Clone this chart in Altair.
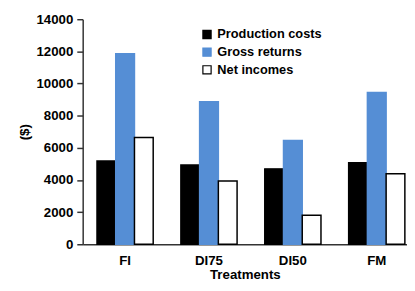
import altair as alt
import pandas as pd

treatments = ["FI", "DI75", "DI50", "FM"]
series = ["Production costs", "Gross returns", "Net incomes"]
production_costs = [5180, 4930, 4690, 5070]
gross_returns = [11860, 8870, 6460, 9440]
net_incomes = [6640, 3930, 1810, 4380]

rows = []
for i, t in enumerate(treatments):
    for s, vals in zip(series, [production_costs, gross_returns, net_incomes]):
        rows.append({"Treatment": t, "Series": s, "Value": vals[i]})
df = pd.DataFrame(rows)

font = "Liberation Sans"

chart = alt.Chart(df).mark_bar(strokeWidth=1.5).encode(
    x=alt.X("Treatment:N", sort=treatments, title="Treatments",
            scale=alt.Scale(paddingInner=0.33, paddingOuter=0.098, align=0.87),
            axis=alt.Axis(labelAngle=0, ticks=False, labelPadding=10, titlePadding=0)),
    xOffset=alt.XOffset("Series:N", sort=series,
                        scale=alt.Scale(paddingInner=0, paddingOuter=0)),
    y=alt.Y("Value:Q", title="($)",
            scale=alt.Scale(domain=[0, 14000]),
            axis=alt.Axis(values=list(range(0, 14001, 2000)), grid=False, format="d",
                          tickSize=6, labelPadding=4, titlePadding=5)),
    fill=alt.Fill("Series:N", sort=series,
                  scale=alt.Scale(domain=series, range=["#000000", "#558ED5", "#FFFFFF"]),
                  legend=alt.Legend(title=None, orient="none", legendX=120, legendY=9,
                                    symbolType="square", symbolSize=70,
                                    symbolStrokeColor="#000000", symbolStrokeWidth=1.2,
                                    rowPadding=3, labelFontSize=13, labelFont=font,
                                    labelFontWeight="bold", labelColor="#000000",
                                    padding=0)),
    stroke=alt.Stroke("Series:N", sort=series,
                      scale=alt.Scale(domain=series, range=["#000000", "#558ED5", "#000000"]),
                      legend=None),
).properties(
    width=330, height=229,
    autosize=alt.AutoSizeParams(type="none"),
    padding={"left": 76, "top": 9, "right": 0, "bottom": 37},
).configure_view(stroke=None).configure_axis(
    domainColor="#333333", domainWidth=1.5, tickColor="#333333", tickWidth=1.5,
    labelFont=font, labelFontSize=13.5, labelFontWeight="bold", labelColor="#000000",
    titleFont=font, titleFontSize=13.5, titleFontWeight="bold", titleColor="#000000",
)

chart.save("out.html", embed_options={"renderer": "svg", "actions": False})
